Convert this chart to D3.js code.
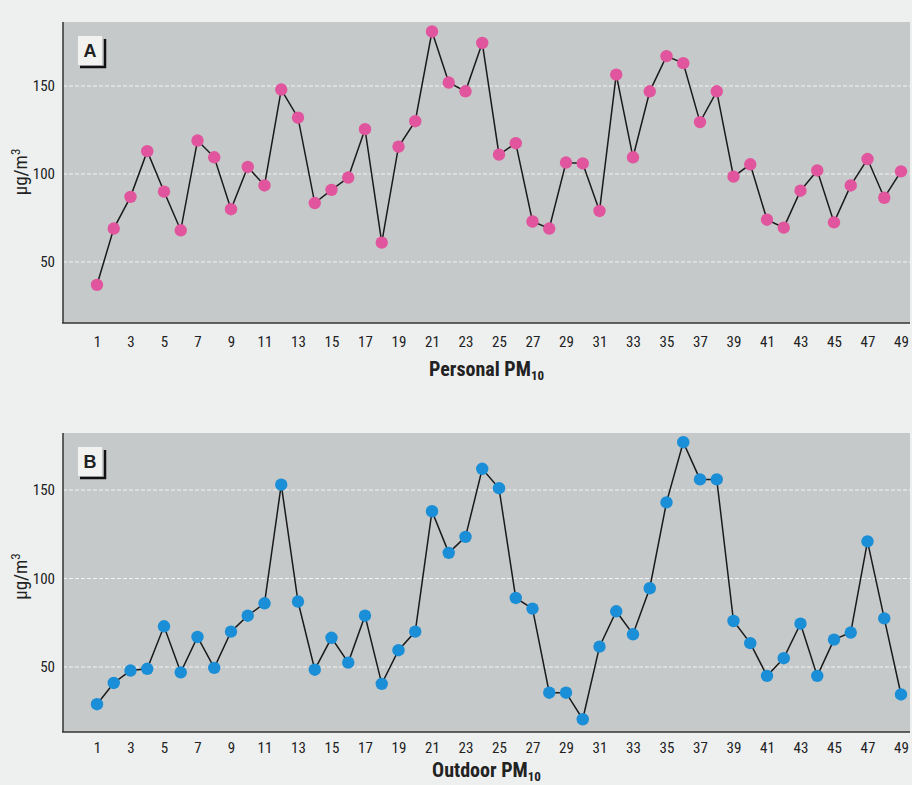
<!DOCTYPE html>
<html>
<head>
<meta charset="utf-8">
<script src="https://cdn.jsdelivr.net/npm/d3@7"></script>
<style>
  body { margin: 0; background: #eef0f0; }
  svg { display: block; }
  text { font-family: "Liberation Sans Narrow", "Arial Narrow", "Roboto Condensed", sans-serif; fill: #222; }
</style>
</head>
<body>
<svg id="chart"></svg>
<script>
// subject numbers 1..49
var subjects = d3.range(1, 50)
var tickLabels = d3.range(1, 50, 2)
var yTicks = [50, 100, 150]

var personalPM10 = [37, 69, 87, 113, 90, 68, 119, 109.5, 80, 104,
  93.5, 148, 132, 83.5, 91, 98, 125.5, 61, 115.5, 130,
  181, 152, 147, 174.5, 111, 117.5, 73, 69, 106.5, 106,
  79, 156.5, 109.5, 147, 167, 163, 129.5, 147, 98.5, 105.5,
  74, 69.5, 90.5, 102, 72.5, 93.5, 108.5, 86.5, 101.5]

var outdoorPM10 = [29, 41, 48, 49, 73, 47, 67, 49.5, 70, 79,
  86, 153, 87, 48.5, 66.5, 52.5, 79, 40.5, 59.5, 70,
  138, 114.5, 123.5, 162, 151, 89, 83, 35.5, 35.5, 20.5,
  61.5, 81.5, 68.5, 94.5, 143, 177, 156, 156, 76, 63.5,
  45, 55, 74.5, 45, 65.5, 69.5, 121, 77.5, 34.5]

var W = 912, H = 785
var svg = d3.select("#chart").attr("width", W).attr("height", H)

function drawPanel(cfg) {
  var left = 63, right = 910
  var x = d3.scaleLinear().domain([1, 49]).range([97, 901])
  var y = d3.scaleLinear().domain(cfg.yDomain).range([cfg.bottom, cfg.top])

  var g = svg.append("g")

  // gray plot background
  g.append("rect")
    .attr("x", left).attr("y", cfg.top)
    .attr("width", right - left).attr("height", cfg.bottom - cfg.top)
    .attr("fill", "#c6c9ca")

  // dashed white grid
  g.selectAll(".grid")
    .data(yTicks)
    .enter()
    .append("line")
    .attr("x1", left).attr("x2", right)
    .attr("y1", function(d) { return y(d) })
    .attr("y2", function(d) { return y(d) })
    .attr("stroke", "#f4f4f4")
    .attr("stroke-width", 1)
    .attr("stroke-dasharray", "4,2")

  // axes
  var yAxis = g.append("g")
    .attr("transform", "translate(" + left + ",0)")
    .call(d3.axisLeft(y).tickValues(yTicks).tickSize(0).tickPadding(8))
  yAxis.select(".domain").remove()
  yAxis.selectAll("text").style("font-size", "15px")

  var xAxis = g.append("g")
    .attr("transform", "translate(0," + cfg.bottom + ")")
    .call(d3.axisBottom(x).tickValues(tickLabels).tickSize(0).tickPadding(cfg.tickPad).tickFormat(d3.format("d")))
  xAxis.select(".domain").remove()
  xAxis.selectAll("text").style("font-size", "15px")

  g.append("line")
    .attr("x1", left).attr("x2", left)
    .attr("y1", cfg.top).attr("y2", cfg.bottom)
    .attr("stroke", "#333").attr("stroke-width", 1.5)
  g.append("line")
    .attr("x1", left - 1).attr("x2", right)
    .attr("y1", cfg.bottom).attr("y2", cfg.bottom)
    .attr("stroke", "#333").attr("stroke-width", 1.5)

  // series line
  var line = d3.line()
    .x(function(d, i) { return x(subjects[i]) })
    .y(function(d) { return y(d) })

  g.append("path")
    .attr("d", line(cfg.values))
    .attr("fill", "none")
    .attr("stroke", "#1a1a1a")
    .attr("stroke-width", 1.5)

  g.selectAll(".dot")
    .data(cfg.values)
    .enter()
    .append("circle")
    .attr("cx", function(d, i) { return x(subjects[i]) })
    .attr("cy", function(d) { return y(d) })
    .attr("r", 6.2)
    .attr("fill", cfg.color)

  // panel letter box with shadow
  var bx = 78, by = cfg.top + 14
  g.append("path")
    .attr("d", "M" + (bx + 2) + "," + (by + 31) + "H" + (bx + 27) + "V" + (by + 3))
    .attr("fill", "none").attr("stroke", "#111").attr("stroke-width", 2.5)
  g.append("rect")
    .attr("x", bx).attr("y", by).attr("width", 24).attr("height", 29)
    .attr("fill", "#f2f3f1")
  g.append("text")
    .attr("x", bx + 12).attr("y", by + 21)
    .attr("text-anchor", "middle")
    .style("font-family", "Liberation Sans, Arial, sans-serif")
    .style("font-weight", "bold").style("font-size", "18px")
    .text(cfg.letter)

  // y label
  var yl = g.append("text")
    .attr("transform", "translate(27," + (y(100) - 2) + ") rotate(-90)")
    .attr("text-anchor", "middle")
    .style("font-size", "19px")
  yl.append("tspan").text("\u00b5g/m")
  yl.append("tspan").attr("dy", -7).style("font-size", "13px").text("3")

  // x title
  var xt = g.append("text")
    .attr("x", (left + right) / 2).attr("y", cfg.bottom + cfg.titleOff)
    .attr("text-anchor", "middle")
    .style("font-size", "20px").style("font-weight", "bold")
  xt.append("tspan").text(cfg.title + " PM")
  xt.append("tspan").attr("dy", 4).style("font-size", "13px").text("10")
}

drawPanel({ top: 22, bottom: 323, yDomain: [15.3, 186.4], values: personalPM10,
  color: "#e0559d", letter: "A", title: "Personal", tickPad: 13, titleOff: 53 })
drawPanel({ top: 433, bottom: 732, yDomain: [13.3, 182.2], values: outdoorPM10,
  color: "#1a8ed6", letter: "B", title: "Outdoor", tickPad: 10, titleOff: 45 })
</script>
</body>
</html>
